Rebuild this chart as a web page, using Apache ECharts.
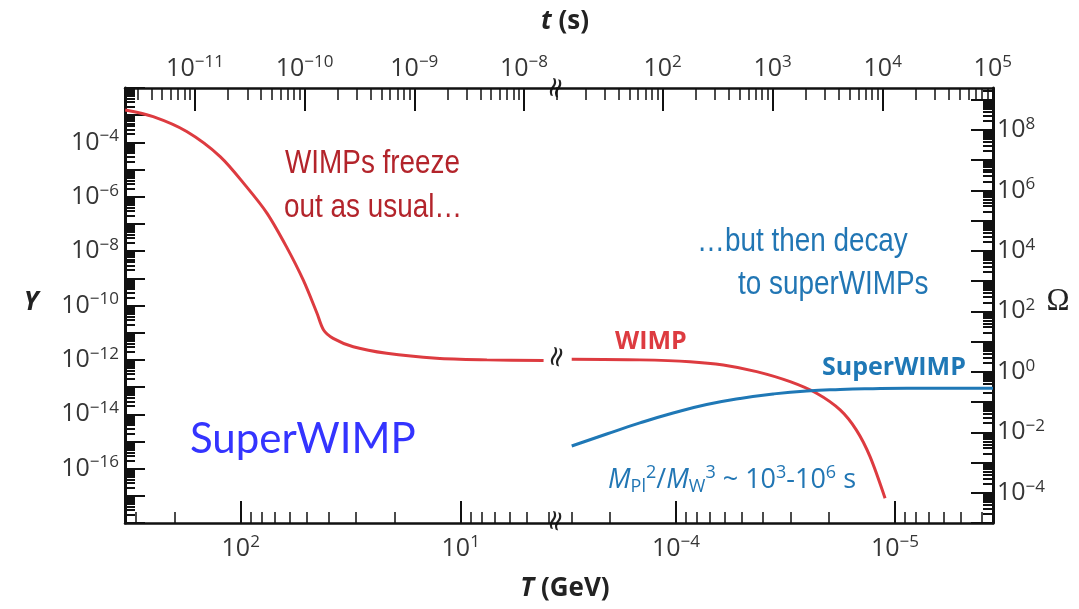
<!DOCTYPE html>
<html><head><meta charset="utf-8">
<script src="https://cdn.jsdelivr.net/npm/echarts@6/dist/echarts.min.js"></script>
<style>html,body{margin:0;padding:0;background:#fff;}#c{width:1079px;height:609px;}</style>
</head><body><div id="c"></div>
<script>
// ---------------- data ----------------
// WIMP abundance before the axis break (T in GeV, Y)
const wimpEarlyT = [335, 250, 176, 124, 94, 76, 62, 52, 45, 42, 38, 30.8, 21.7, 12.9, 7.6, 4.2];
const wimpEarlyY = [1.55e-3, 8.8e-4, 2.5e-4, 3.0e-5, 2.3e-6, 2.5e-7, 1.46e-8, 8.7e-10, 5.2e-11, 1.26e-11, 6.2e-12, 3.05e-12, 1.75e-12, 1.15e-12, 1.0e-12, 9.4e-13];
// WIMP abundance after the break (decay)
const wimpLateT = [2.99e-4, 1.46e-4, 8.63e-5, 6.08e-5, 4.28e-5, 3.01e-5, 2.28e-5, 1.78e-5, 1.50e-5, 1.30e-5, 1.11e-5];
const wimpLateY = [1.05e-12, 1.0e-12, 8.6e-13, 6.5e-13, 3.7e-13, 1.58e-13, 5.9e-14, 1.44e-14, 2.6e-15, 2.75e-16, 8.1e-18];
// SuperWIMP abundance after the break
const superT = [2.99e-4, 2.07e-4, 1.46e-4, 1.03e-4, 7.24e-5, 5.11e-5, 3.6e-5, 2.53e-5, 1.78e-5, 1.26e-5, 8.85e-6, 3.57e-6];
const superY = [6.8e-16, 1.88e-15, 4.8e-15, 1.11e-14, 2.29e-14, 3.8e-14, 5.57e-14, 7.2e-14, 8.15e-14, 8.7e-14, 9.0e-14, 9.1e-14];

// axis ranges
const TLeftRange = [3.65, 335.7];      // GeV, left of break
const TRightRange = [3.57e-6, 3.49e-4]; // GeV, right of break
const tLeftRange = [2.30e-12, 2.0e-8];  // s
const tRightRange = [10.96, 1.005e5];   // s
const YRange = [1e-18, 1e-2];
const OmegaRange = [1e-5, 2.44e9];

// tick labels
const TLabelsLeft = [1e2, 1e1];
const TLabelsRight = [1e-4, 1e-5];
const tLabelsLeft = [1e-11, 1e-10, 1e-9, 1e-8];
const tLabelsRight = [1e2, 1e3, 1e4, 1e5];
const YLabels = [1e-4, 1e-6, 1e-8, 1e-10, 1e-12, 1e-14, 1e-16];
const OmegaLabels = [1e8, 1e6, 1e4, 1e2, 1, 1e-2, 1e-4];
// decades used for major ticks
const YDecades = [-18, -2];
const OmegaDecades = [-5, 9];

// ---------------- helpers ----------------
function decades(lo, hi) { const a = []; for (let e = lo; e <= hi; e++) a.push(Math.pow(10, e)); return a; }
function minors(lo, hi) { const a = []; for (let e = lo; e <= hi; e++) for (let m = 2; m <= 9; m++) a.push(m * Math.pow(10, e)); return a; }
function within(list, r) { return list.filter(v => v >= r[0] * 0.9999 && v <= r[1] * 1.0001); }
function zip(a, b) { return a.map((v, i) => [v, b[i]]); }

const LC = '#363636';
const AX = '#111';
const lblRich = {
  b: { fontSize: 25, fontFamily: 'Open Sans', color: LC, lineHeight: 29 },
  s: { fontSize: 17, fontFamily: 'Open Sans', color: LC, verticalAlign: 'top', lineHeight: 15 }
};
function expLabel(v) {
  const e = Math.round(Math.log10(v));
  return '{b|10}{s|' + (e < 0 ? '\u2212' + (-e) : e) + '}';
}
function majorAxis(o) {
  return {
    type: 'log', gridIndex: o.grid, position: o.pos, min: o.range[0], max: o.range[1], inverse: !!o.inverse,
    axisLine: { show: true, lineStyle: { color: AX, width: o.lw || 2.5 } },
    axisTick: { show: true, inside: true, length: o.len || 22, lineStyle: { color: AX, width: 2 }, customValues: within(o.ticks, o.range) },
    axisLabel: { show: true, margin: o.margin, customValues: within(o.labels, o.range), formatter: expLabel, rich: lblRich },
    splitLine: { show: false }, minorTick: { show: false }, minorSplitLine: { show: false }
  };
}
function minorAxis(o) {
  return {
    type: 'log', gridIndex: o.grid, position: o.pos, min: o.range[0], max: o.range[1], inverse: !!o.inverse,
    axisLine: { show: false },
    axisTick: { show: true, inside: true, length: o.len || 11, lineStyle: { color: AX, width: o.tw || 1.5 }, customValues: within(o.ticks, o.range) },
    axisLabel: { show: false }, splitLine: { show: false }
  };
}

const RED = '#dd3b40';
const BLUE = '#1f78b6';

const option = {
  animation: false,
  backgroundColor: '#fff',
  grid: [
    { left: 125, top: 88, width: 432, height: 435 },
    { left: 557, top: 88, width: 436, height: 435 }
  ],
  xAxis: [
    majorAxis({ grid: 0, pos: 'bottom', range: TLeftRange, inverse: true, ticks: TLabelsLeft, labels: TLabelsLeft, margin: 11 }),
    minorAxis({ grid: 0, pos: 'bottom', range: TLeftRange, inverse: true, ticks: minors(0, 2) }),
    majorAxis({ grid: 0, pos: 'top', range: tLeftRange, ticks: tLabelsLeft, labels: tLabelsLeft, margin: 5, len: 23 }),
    minorAxis({ grid: 0, pos: 'top', range: tLeftRange, ticks: minors(-12, -8), len: 12 }),
    majorAxis({ grid: 1, pos: 'bottom', range: TRightRange, inverse: true, ticks: TLabelsRight, labels: TLabelsRight, margin: 11 }),
    minorAxis({ grid: 1, pos: 'bottom', range: TRightRange, inverse: true, ticks: minors(-6, -4) }),
    majorAxis({ grid: 1, pos: 'top', range: tRightRange, ticks: tLabelsRight, labels: tLabelsRight, margin: 5, len: 23 }),
    minorAxis({ grid: 1, pos: 'top', range: tRightRange, ticks: minors(1, 4), len: 12 })
  ],
  yAxis: [
    majorAxis({ grid: 0, pos: 'left', range: YRange, ticks: decades(YDecades[0], YDecades[1]), labels: YLabels, margin: 6, lw: 3, len: 20 }),
    minorAxis({ grid: 0, pos: 'left', range: YRange, ticks: minors(YDecades[0], YDecades[1]), len: 10, tw: 2 }),
    majorAxis({ grid: 1, pos: 'right', range: OmegaRange, ticks: decades(OmegaDecades[0], OmegaDecades[1]), labels: OmegaLabels, margin: 4, lw: 3, len: 22 }),
    minorAxis({ grid: 1, pos: 'right', range: OmegaRange, ticks: minors(OmegaDecades[0], OmegaDecades[1]), len: 10, tw: 2 }),
    { type: 'log', gridIndex: 1, position: 'left', min: YRange[0], max: YRange[1], show: false }
  ],
  series: [
    { type: 'line', name: 'WIMP', xAxisIndex: 0, yAxisIndex: 0, data: zip(wimpEarlyT, wimpEarlyY),
      showSymbol: false, smooth: 0.3, lineStyle: { color: RED, width: 3 }, itemStyle: { color: RED } },
    { type: 'line', name: 'WIMP', xAxisIndex: 4, yAxisIndex: 4, data: zip(wimpLateT, wimpLateY),
      showSymbol: false, smooth: 0.3, lineStyle: { color: RED, width: 3 }, itemStyle: { color: RED } },
    { type: 'line', name: 'SuperWIMP', xAxisIndex: 4, yAxisIndex: 4, data: zip(superT, superY),
      showSymbol: false, smooth: 0.5, lineStyle: { color: BLUE, width: 3 }, itemStyle: { color: BLUE } }
  ],
  graphic: [
    // axis titles
    { type: 'text', x: 565, y: 22, style: { text: '{i|t} (s)', align: 'center', verticalAlign: 'middle', textAlign: 'center', textVerticalAlign: 'middle',
        fontSize: 26, fontWeight: 'bold', fontFamily: 'Open Sans', fill: '#222',
        rich: { i: { fontSize: 26, fontWeight: 'bold', fontStyle: 'italic', fontFamily: 'Open Sans', fill: '#222' } } } },
    { type: 'text', x: 565, y: 589, style: { text: '{i|T} (GeV)', align: 'center', verticalAlign: 'middle', textAlign: 'center', textVerticalAlign: 'middle',
        fontSize: 26, fontWeight: 'bold', fontFamily: 'Open Sans', fill: '#222',
        rich: { i: { fontSize: 26, fontWeight: 'bold', fontStyle: 'italic', fontFamily: 'Open Sans', fill: '#222' } } } },
    { type: 'text', x: 31, y: 303, style: { text: 'Y', align: 'center', verticalAlign: 'middle', textAlign: 'center', textVerticalAlign: 'middle',
        fontSize: 26, fontWeight: 'bold', fontStyle: 'italic', fontFamily: 'Open Sans', fill: '#222' } },
    { type: 'text', x: 1058, y: 302, style: { text: '\u03A9', align: 'center', verticalAlign: 'middle', textAlign: 'center', textVerticalAlign: 'middle',
        fontSize: 31, fontFamily: 'Liberation Serif', fill: '#222' } },
    // break marks
    { type: 'text', x: 557, y: 88, rotation: Math.PI / 2.4, style: { text: '\u2248', align: 'center', verticalAlign: 'middle', textAlign: 'center', textVerticalAlign: 'middle', fontSize: 28, fontFamily: 'DejaVu Sans', fill: '#222' } },
    { type: 'text', x: 557, y: 521, rotation: Math.PI / 2.4, style: { text: '\u2248', align: 'center', verticalAlign: 'middle', textAlign: 'center', textVerticalAlign: 'middle', fontSize: 28, fontFamily: 'DejaVu Sans', fill: '#222' } },
    { type: 'text', x: 558, y: 357, rotation: Math.PI / 2.4, style: { text: '\u2248', align: 'center', verticalAlign: 'middle', textAlign: 'center', textVerticalAlign: 'middle', fontSize: 28, fontFamily: 'DejaVu Sans', fill: '#222' } },
    // annotations
    { type: 'text', x: 285, y: 164, scaleX: 0.82, style: { text: 'WIMPs freeze', align: 'left', verticalAlign: 'middle', textAlign: 'left', textVerticalAlign: 'middle', fontSize: 34, fontFamily: 'Liberation Sans', fill: '#b3242b' } },
    { type: 'text', x: 284, y: 208, scaleX: 0.82, style: { text: 'out as usual\u2026', align: 'left', verticalAlign: 'middle', textAlign: 'left', textVerticalAlign: 'middle', fontSize: 34, fontFamily: 'Liberation Sans', fill: '#b3242b' } },
    { type: 'text', x: 697, y: 242, scaleX: 0.82, style: { text: '\u2026but then decay', align: 'left', verticalAlign: 'middle', textAlign: 'left', textVerticalAlign: 'middle', fontSize: 34, fontFamily: 'Liberation Sans', fill: '#2176b4' } },
    { type: 'text', x: 738, y: 285, scaleX: 0.82, style: { text: 'to superWIMPs', align: 'left', verticalAlign: 'middle', textAlign: 'left', textVerticalAlign: 'middle', fontSize: 34, fontFamily: 'Liberation Sans', fill: '#2176b4' } },
    { type: 'text', x: 615, y: 342, style: { text: 'WIMP', align: 'left', verticalAlign: 'middle', textAlign: 'left', textVerticalAlign: 'middle', fontSize: 25, fontWeight: 'bold', fontFamily: 'Open Sans', fill: RED } },
    { type: 'text', x: 822, y: 368, style: { text: 'SuperWIMP', align: 'left', verticalAlign: 'middle', textAlign: 'left', textVerticalAlign: 'middle', fontSize: 25, fontWeight: 'bold', fontFamily: 'Open Sans', fill: BLUE } },
    { type: 'text', x: 608, y: 480, style: {
        text: '{i|M}{sub|Pl}{sup|2}/{i|M}{sub|W}{sup|3} ~ 10{sup|3}-10{sup|6} s',
        align: 'left', verticalAlign: 'middle', textAlign: 'left', textVerticalAlign: 'middle',
        fontSize: 27, fontFamily: 'Open Sans', fill: '#2176b4',
        rich: {
          i: { fontSize: 27, fontStyle: 'italic', fontFamily: 'Open Sans', fill: '#2176b4', lineHeight: 32 },
          sub: { fontSize: 18, fontFamily: 'Open Sans', fill: '#2176b4', verticalAlign: 'bottom', lineHeight: 18 },
          sup: { fontSize: 18, fontFamily: 'Open Sans', fill: '#2176b4', verticalAlign: 'top', lineHeight: 18 }
        } } },
    { type: 'text', x: 190, y: 439, style: { text: 'SuperWIMP', align: 'left', verticalAlign: 'middle', textAlign: 'left', textVerticalAlign: 'middle', fontSize: 42, fontFamily: 'Lato', fill: '#3434ff' } }
  ]
};
const chart = echarts.init(document.getElementById('c'), null, { renderer: 'canvas' });
chart.setOption(option);
</script>
</body></html>
